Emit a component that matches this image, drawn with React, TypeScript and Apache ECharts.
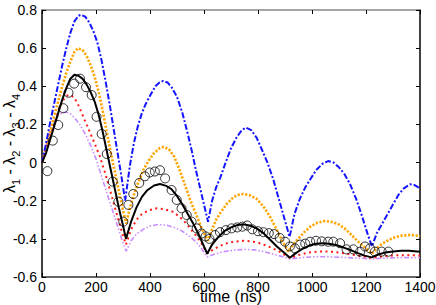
import React, { useEffect, useRef } from "react";
import * as echarts from "echarts";

const xTicks = [0, 200, 400, 600, 800, 1000, 1200, 1400];
const yTicks = ["-0.6", "-0.4", "-0.2", "0", "0.2", "0.4", "0.6", "0.8"];

const blueLine: [number, number][] = [
  [0, 0], [15, 0.1], [30, 0.21], [45, 0.31], [60, 0.41], [75, 0.51], [90, 0.6], [105, 0.68], [120, 0.74], [135, 0.77], [145, 0.775],
  [160, 0.765], [175, 0.735], [190, 0.69], [205, 0.63], [220, 0.54], [235, 0.43], [250, 0.31], [265, 0.18], [280, 0.05], [295, -0.08], [308, -0.2],
  [325, -0.02], [340, 0.1], [355, 0.19], [370, 0.26], [385, 0.31], [400, 0.35], [420, 0.4], [435, 0.42], [449, 0.428], [465, 0.42], [480, 0.395],
  [500, 0.345], [520, 0.26], [540, 0.15], [555, 0.06], [570, -0.04], [585, -0.13], [600, -0.22], [615, -0.31],
  [630, -0.2], [645, -0.13], [660, -0.08], [680, 0.0], [700, 0.075], [720, 0.13], [740, 0.17], [755, 0.183], [775, 0.17], [795, 0.13],
  [815, 0.066], [835, 0.0], [857, -0.09], [875, -0.18], [895, -0.28], [917, -0.39],
  [935, -0.27], [955, -0.19], [975, -0.13], [995, -0.085], [1015, -0.04], [1040, -0.005], [1060, 0.008], [1080, 0.0], [1100, -0.025],
  [1120, -0.06], [1140, -0.11], [1165, -0.196], [1185, -0.28], [1205, -0.37], [1222, -0.44],
  [1240, -0.37], [1260, -0.32], [1280, -0.27], [1300, -0.22], [1320, -0.17], [1340, -0.135], [1363, -0.114], [1380, -0.118], [1400, -0.135],
];

const orangeLine: [number, number][] = [
  [0, 0], [15, 0.08], [30, 0.16], [45, 0.245], [60, 0.32], [75, 0.4], [90, 0.47], [105, 0.53], [120, 0.58], [133, 0.6],
  [150, 0.59], [165, 0.56], [180, 0.51], [195, 0.45], [210, 0.37], [225, 0.27], [240, 0.16], [255, 0.05], [270, -0.05], [285, -0.15], [300, -0.25], [312, -0.32],
  [325, -0.24], [340, -0.17], [355, -0.11], [375, -0.04], [395, 0.01], [415, 0.05], [435, 0.075], [450, 0.082], [470, 0.07], [490, 0.03],
  [510, -0.04], [530, -0.12], [550, -0.2], [570, -0.27], [590, -0.34], [614, -0.41],
  [630, -0.35], [645, -0.3], [660, -0.265], [685, -0.215], [710, -0.18], [730, -0.168], [746, -0.165], [770, -0.172], [795, -0.19],
  [820, -0.23], [845, -0.285], [870, -0.355], [890, -0.41], [912, -0.467],
  [930, -0.43], [955, -0.39], [975, -0.36], [995, -0.335], [1020, -0.315], [1048, -0.306], [1075, -0.312], [1100, -0.325], [1125, -0.35],
  [1150, -0.385], [1175, -0.42], [1200, -0.45], [1222, -0.478],
  [1240, -0.45], [1260, -0.425], [1285, -0.405], [1310, -0.39], [1335, -0.382], [1363, -0.38], [1385, -0.382], [1400, -0.386],
];

const blackLine: [number, number][] = [
  [0, 0], [15, 0.05], [30, 0.12], [45, 0.19], [60, 0.26], [75, 0.33], [90, 0.39], [105, 0.44], [120, 0.46], [135, 0.455],
  [150, 0.44], [165, 0.41], [180, 0.37], [195, 0.32], [210, 0.25], [225, 0.16], [240, 0.06], [255, -0.04], [270, -0.14], [285, -0.24], [300, -0.33], [311, -0.4],
  [330, -0.31], [350, -0.235], [370, -0.18], [390, -0.145], [415, -0.12], [437, -0.112], [460, -0.122], [480, -0.14], [500, -0.175],
  [520, -0.22], [540, -0.27], [560, -0.32], [580, -0.375], [600, -0.44], [612, -0.478],
  [630, -0.43], [650, -0.395], [675, -0.36], [700, -0.34], [725, -0.327], [746, -0.324], [770, -0.33], [795, -0.345], [820, -0.37],
  [845, -0.405], [870, -0.44], [895, -0.47], [918, -0.499],
  [940, -0.475], [965, -0.452], [990, -0.435], [1015, -0.426], [1042, -0.423], [1070, -0.427], [1095, -0.435], [1120, -0.447],
  [1145, -0.46], [1170, -0.475], [1195, -0.488], [1221, -0.497],
  [1245, -0.482], [1270, -0.472], [1300, -0.466], [1330, -0.463], [1360, -0.463], [1400, -0.467],
];

const redLine: [number, number][] = [
  [0, 0], [15, 0.07], [30, 0.14], [45, 0.2], [60, 0.27], [75, 0.32], [90, 0.35], [105, 0.355], [120, 0.34], [135, 0.3],
  [150, 0.25], [165, 0.2], [180, 0.15], [195, 0.1], [215, 0.03], [235, -0.06], [255, -0.16], [275, -0.26], [295, -0.36], [311, -0.43],
  [330, -0.35], [350, -0.3], [370, -0.27], [395, -0.25], [425, -0.24], [455, -0.245], [485, -0.258], [510, -0.285], [535, -0.32],
  [560, -0.365], [585, -0.41], [612, -0.476],
  [630, -0.46], [655, -0.44], [680, -0.425], [710, -0.415], [746, -0.41], [775, -0.413], [800, -0.42], [830, -0.435], [855, -0.45],
  [880, -0.467], [900, -0.485], [918, -0.5],
  [950, -0.485], [985, -0.472], [1015, -0.468], [1042, -0.466], [1075, -0.468], [1110, -0.474], [1145, -0.482], [1180, -0.49], [1222, -0.5],
  [1260, -0.492], [1300, -0.487], [1350, -0.485], [1400, -0.487],
];

const purpleLine: [number, number][] = [
  [0, 0], [15, 0.09], [30, 0.16], [45, 0.21], [60, 0.245], [75, 0.262], [90, 0.265], [105, 0.255], [120, 0.235], [140, 0.2],
  [160, 0.15], [180, 0.09], [200, 0.02], [220, -0.07], [245, -0.18], [270, -0.29], [295, -0.4], [312, -0.465],
  [330, -0.41], [350, -0.375], [375, -0.35], [400, -0.333], [430, -0.325], [460, -0.328], [490, -0.34], [520, -0.36], [550, -0.39],
  [580, -0.43], [612, -0.495],
  [640, -0.48], [670, -0.468], [705, -0.46], [746, -0.455], [790, -0.458], [830, -0.47], [870, -0.485], [918, -0.505],
  [970, -0.497], [1020, -0.494], [1060, -0.494], [1110, -0.497], [1160, -0.5], [1222, -0.505],
  [1280, -0.5], [1340, -0.498], [1400, -0.499],
];

const circlePoints: [number, number][] = [
  [20, -0.045], [40, 0.115], [60, 0.197], [79, 0.285], [98, 0.366], [119, 0.414], [141, 0.44], [163, 0.395], [184, 0.354],
  [202, 0.24], [221, 0.15], [240, 0.045], [262, -0.1], [283, -0.205], [301, -0.31], [320, -0.222], [338, -0.165], [360, -0.107],
  [381, -0.072], [399, -0.052], [418, -0.047], [437, -0.04], [456, -0.083], [480, -0.144], [499, -0.196], [517, -0.24], [536, -0.275],
  [554, -0.31], [573, -0.345], [591, -0.372], [606, -0.387], [620, -0.4], [641, -0.38], [659, -0.365], [681, -0.354], [702, -0.345],
  [723, -0.34], [742, -0.336], [760, -0.33], [779, -0.35], [800, -0.36], [820, -0.365], [840, -0.37], [860, -0.375], [880, -0.395],
  [900, -0.415], [918, -0.44], [937, -0.45], [956, -0.43], [975, -0.425], [993, -0.415], [1015, -0.41], [1036, -0.413], [1060, -0.415],
  [1079, -0.415], [1104, -0.423], [1128, -0.455], [1153, -0.455], [1178, -0.467], [1196, -0.44], [1215, -0.45], [1233, -0.467],
  [1258, -0.467], [1283, -0.467],
];

const FONT = "'Liberation Sans', Arial, sans-serif";

export default function App() {
  const ref = useRef<HTMLDivElement>(null);
  useEffect(() => {
    document.body.style.margin = "0";
    if (!ref.current) return;
    const chart = echarts.init(ref.current, undefined, { renderer: "svg" });
    const tickStyle = { show: true, inside: true, length: 4, lineStyle: { color: "#000", width: 1 } };
    const lineSeries = (data: [number, number][], color: string, width: number, type: any, z: number) => ({
      type: "line",
      data,
      showSymbol: false,
      symbol: "none",
      z,
      lineStyle: { color, width, type, cap: "butt" },
    });
    chart.setOption({
      animation: false,
      backgroundColor: "#fff",
      grid: { left: 42, right: 16, top: 10, bottom: 28, containLabel: false, outerBoundsMode: "none" },
      xAxis: [
        {
          type: "value",
          min: 0,
          max: 1400,
          interval: 200,
          position: "bottom",
          axisLine: { show: true, onZero: false, lineStyle: { color: "#333", width: 1.5 } },
          axisTick: tickStyle,
          splitLine: { show: false },
          axisLabel: {
            color: "#000",
            fontSize: 14,
            fontFamily: FONT,
            margin: 3,
            formatter: (v: number) => String(xTicks.find((t) => t === v) ?? v),
          },
          name: "time (ns)",
          nameLocation: "middle",
          nameGap: 11,
          nameMoveOverlap: false,
          nameTextStyle: { color: "#000", fontSize: 16, fontFamily: FONT },
        },
        {
          type: "value",
          min: 0,
          max: 1400,
          interval: 200,
          position: "top",
          axisLine: { show: true, onZero: false, lineStyle: { color: "#888", width: 1.5 } },
          axisTick: tickStyle,
          axisLabel: { show: false },
          splitLine: { show: false },
        },
      ],
      yAxis: [
        {
          type: "value",
          min: -0.6,
          max: 0.8,
          interval: 0.2,
          position: "left",
          axisLine: { show: true, onZero: false, lineStyle: { color: "#000", width: 1.5 } },
          axisTick: tickStyle,
          splitLine: { show: false },
          axisLabel: {
            color: "#000",
            fontSize: 14,
            fontFamily: FONT,
            margin: 5,
            formatter: (v: number) => yTicks[Math.round((v + 0.6) / 0.2)],
          },
          name: "{m|λ}{s|1}{m| - λ}{s|2}{m| - λ}{s|3}{m| - λ}{s|4}",
          nameLocation: "middle",
          nameRotate: 90,
          nameGap: 21,
          nameMoveOverlap: false,
          nameTextStyle: {
            color: "#000",
            fontFamily: FONT,
            rich: {
              m: { fontSize: 16, fontFamily: FONT, color: "#000", lineHeight: 20, verticalAlign: "top" },
              s: { fontSize: 11, fontFamily: FONT, color: "#000", lineHeight: 12, verticalAlign: "bottom" },
            },
          },
        },
        {
          type: "value",
          min: -0.6,
          max: 0.8,
          interval: 0.2,
          position: "right",
          axisLine: { show: true, onZero: false, lineStyle: { color: "#000", width: 1.5 } },
          axisTick: tickStyle,
          axisLabel: { show: false },
          splitLine: { show: false },
        },
      ],
      series: [
        lineSeries(purpleLine, "#c98cff", 1.6, [5, 2, 1.5, 2, 1.5, 2], 2),
        lineSeries(redLine, "#ff1a1a", 2, [2, 3.5], 3),
        lineSeries(orangeLine, "#ffa500", 2.6, [2.2, 1.6], 4),
        lineSeries(blueLine, "#1414ff", 2, [6, 2, 2, 2], 5),
        lineSeries(blackLine, "#000", 2, "solid", 6),
        {
          type: "scatter",
          data: circlePoints,
          symbol: "circle",
          symbolSize: 9,
          z: 7,
          itemStyle: { color: "rgba(0,0,0,0)", borderColor: "#000", borderWidth: 1 },
        },
      ],
    });
    return () => chart.dispose();
  }, []);
  return <div ref={ref} style={{ width: 436, height: 305 }} />;
}
